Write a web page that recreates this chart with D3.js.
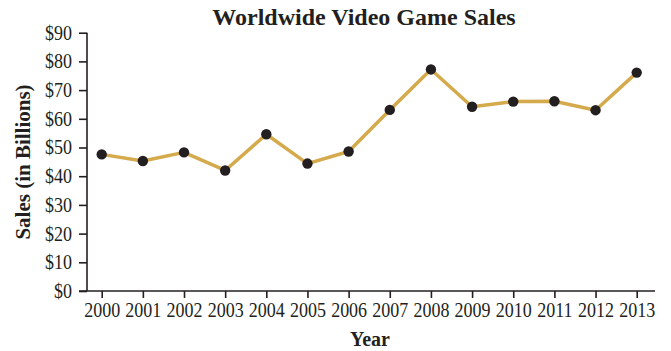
<!DOCTYPE html>
<html>
<head>
<meta charset="utf-8">
<script src="https://cdn.jsdelivr.net/npm/d3@7/dist/d3.min.js"></script>
<style>
  html, body { margin: 0; padding: 0; background: #fff; }
  svg text { font-family: "Liberation Serif", "Times New Roman", serif; fill: #231f20; }
</style>
</head>
<body>
<svg id="chart" width="671" height="351"></svg>
<script>
// Worldwide video game sales, billions of US dollars
const years = [2000, 2001, 2002, 2003, 2004, 2005, 2006, 2007, 2008, 2009, 2010, 2011, 2012, 2013];
const sales = [47.6, 45.3, 48.3, 42.0, 54.6, 44.4, 48.6, 63.1, 77.2, 64.2, 66.0, 66.1, 63.0, 76.1];
const yTicks = [0, 10, 20, 30, 40, 50, 60, 70, 80, 90];

const svg = d3.select("#chart");
const ink = "#231f20";
const squeeze = 0.9;   // narrow tick numerals

const x = d3.scaleLinear().domain([2000, 2013]).range([101.7, 636.7]);
const y = d3.scaleLinear().domain([0, 90]).range([291, 32.7]);

// Title
svg.append("text")
  .attr("x", 364).attr("y", 25)
  .attr("text-anchor", "middle")
  .style("font-size", "24px").style("font-weight", "bold")
  .text("Worldwide Video Game Sales");

// Y axis
const yAxis = d3.axisLeft(y).tickValues(yTicks).tickSize(8).tickPadding(7)
  .tickFormat(d => "$" + d);
const gy = svg.append("g").attr("transform", "translate(87,0)").call(yAxis);
gy.select(".domain").attr("d", `M0,${y(90)}V${y(0)}`);

// X axis
const xAxis = d3.axisBottom(x).tickValues(years).tickSize(7).tickPadding(5)
  .tickFormat(d3.format("d"));
const gx = svg.append("g").attr("transform", "translate(0,291)").call(xAxis);
gx.select(".domain").attr("d", "M79,0H655");

[gx, gy].forEach(g => {
  g.selectAll(".domain, .tick line").attr("stroke", ink).attr("stroke-width", 1.6);
  g.selectAll(".tick text")
    .style("font-size", "20px")
    .attr("fill", ink)
    .attr("transform", `scale(${squeeze},1)`);
});
gy.selectAll(".tick text").attr("x", -15 / squeeze);

// Axis titles
svg.append("text")
  .attr("transform", "translate(30,162) rotate(-90)")
  .attr("text-anchor", "middle")
  .style("font-size", "21px").style("font-weight", "bold")
  .text("Sales (in Billions)");

svg.append("text")
  .attr("x", 370).attr("y", 346)
  .attr("text-anchor", "middle")
  .style("font-size", "20px").style("font-weight", "bold")
  .text("Year");

// Line and points
const data = years.map((yr, i) => ({ year: yr, value: sales[i] }));
const line = d3.line().x(d => x(d.year)).y(d => y(d.value));

svg.append("path")
  .datum(data)
  .attr("d", line)
  .attr("fill", "none")
  .attr("stroke", "#d4aa4c")
  .attr("stroke-width", 3.5)
  .attr("stroke-linejoin", "round");

svg.selectAll("circle.pt")
  .data(data)
  .join("circle")
  .attr("class", "pt")
  .attr("cx", d => x(d.year))
  .attr("cy", d => y(d.value))
  .attr("r", 5.2)
  .attr("fill", ink);
</script>
</body>
</html>
